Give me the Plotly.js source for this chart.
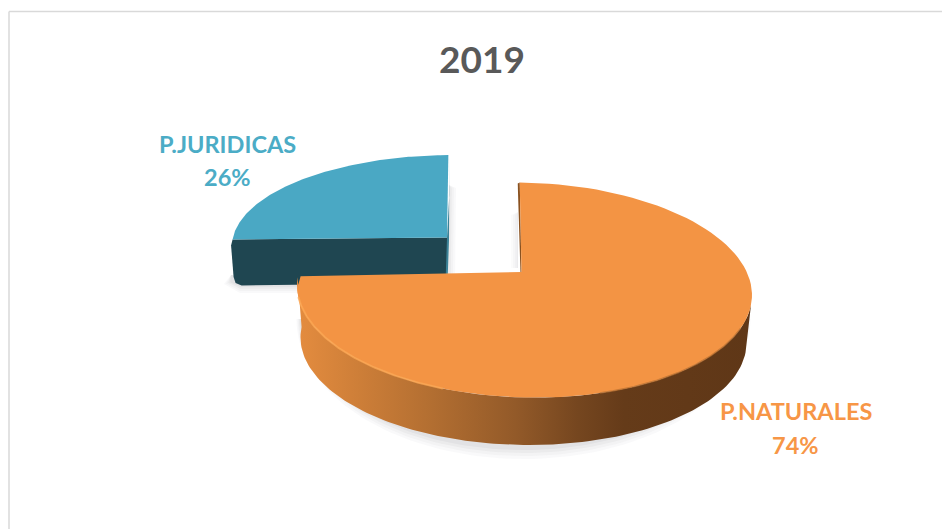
<!DOCTYPE html>
<html>
<head>
<meta charset="utf-8">
<script src="https://cdn.plot.ly/plotly-3.0.1.min.js"></script>
<style>html,body{margin:0;padding:0;background:#fff}#chart{width:942px;height:529px}</style>
</head>
<body>
<div id="chart"></div>
<script>
const chartTitle = "2019";
const categories = ["P.NATURALES", "P.JURIDICAS"];
const shares = [74, 26];

// Fake-perspective view of the pie: ellipses for the top face and the lower rim of each slice
const topOrange = {cx:524.5, cy:290, rx:227.5, ry:107.5, k:0.022};
const rimOrange = {cx:523.5, cy:340, rx:223, ry:105, k:0.012};
const topBlue   = {cx:453, cy:246, rx:221, ry:91, k:0};
const apexOrange = [521.5, 272];
const apexBlue = [447, 237.5];

const warp = t => t - 1.2 + 12.3 * Math.sin(t * Math.PI / 360);
function pt(e, t) {
  const a = warp(t) * Math.PI / 180;
  const x = e.cx + e.rx * Math.sin(a);
  return [x, e.cy - e.ry * Math.cos(a) + e.k * (x - e.cx)];
}
function arc(e, a, b) {
  const out = [], n = 120;
  for (let i = 0; i <= n; i++) out.push(pt(e, a + (b - a) * i / n));
  return out;
}
function lowerRing(e, dy, grow) {
  const out = [];
  for (let i = 0; i <= 90; i++) {
    const a = (90 + i * 2) * Math.PI / 180;
    out.push([e.cx + (e.rx + grow * 0.4) * Math.sin(a), e.cy - 25 + dy - (e.ry + 25 + grow) * Math.cos(a)]);
  }
  return out;
}
const poly = (pts, color, extra) => Object.assign({
  x: pts.map(p => p[0]), y: pts.map(p => p[1]), mode: "lines", fill: "toself",
  fillcolor: color, line: {width: 0, color: color}, hoverinfo: "skip", showlegend: false
}, extra || {});
const stroke = (pts, color, w) => ({
  x: pts.map(p => p[0]), y: pts.map(p => p[1]), mode: "lines",
  line: {width: w, color: color}, hoverinfo: "skip", showlegend: false
});

const end0 = shares[0] / (shares[0] + shares[1]) * 360;
const traces = [];

// soft shadows
[[10,0.035],[7,0.04],[4,0.05],[1,0.06]].forEach(s => {
  traces.push(poly(lowerRing(rimOrange, 4, s[0]), `rgba(90,90,100,${s[1]})`));
  const g = s[0] * 0.7;
  traces.push(poly([[449, 185], [449 + g, 188], [448 + g, 280], [448, 283]], `rgba(90,90,100,${s[1]})`));
  traces.push(poly([[231, 275], [231 - g, 282 + g * 0.3], [240, 286 + g], [300, 286 + g], [300, 280]], `rgba(90,90,100,${s[1]})`));
  traces.push(poly([[518, 268], [518 - g, 268], [518 - g, 215], [518, 212]], `rgba(90,90,100,${s[1] * 0.7})`));
});

// blue slice
const bTop = arc(topBlue, end0, 360);
const bLeft = bTop[0];
traces.push(poly([bLeft, [bLeft[0]-1.5, bLeft[1]+6], [bLeft[0]+1, 277], [bLeft[0]+3, 283], [bLeft[0]+9, 285.5], [445, 283], [447, 270], apexBlue], "#1f4651"));
traces.push(poly([[449.3, 155], [449.3, 195], apexBlue, [445.5, 283], [447.5, 283], [449, 240]], "#3c8398"));
traces.push(poly(bTop.concat([apexBlue]), "#4aa8c4"));

// orange slice
const oTopArc = arc(topOrange, 88, end0);
const oTopFull = arc(topOrange, 0, end0);
const oRim = arc(rimOrange, 88, 268);
const gradient = {
  type: "horizontal",
  colorscale: [[0,"#e48c3f"],[0.12,"#d08039"],[0.3,"#b26e31"],[0.48,"#935a29"],[0.62,"#75461f"],[0.72,"#653b19"],[1,"#5f3717"]]
};
traces.push(poly(oTopArc.concat(oRim.slice().reverse()), "#b26e31", {fillgradient: gradient}));
traces.push(poly([[oTopFull[0][0]-2, oTopFull[0][1]+1], oTopFull[0], apexOrange, [apexOrange[0]-1, 274]], "#8a5220"));
const corner = oTopFull[oTopFull.length - 1];
traces.push(poly(oTopFull.slice(0, -3).concat([[corner[0]+3, corner[1]-1], apexOrange]), "#f39444"));

// bevel along the front edge of the top face
traces.push(stroke(arc(topOrange, 190, 255), "rgba(251,166,82,0.8)", 2));
traces.push(stroke(arc(topOrange, 100, 150), "rgba(180,108,46,0.7)", 1.5));

const labels = [
  {i: 0, x: 795.5, y: 411, c: "#f79646"},
  {i: 1, x: 227.5, y: 143.5, c: "#4bacc6"}
];
const annotations = [];
labels.forEach(l => {
  annotations.push({x:l.x, y:l.y, xref:"x", yref:"y", text:categories[l.i], showarrow:false,
    font:{family:"Lato, Carlito, sans-serif", size:23.5, color:l.c, weight:700}, xanchor:"center", yanchor:"middle"});
  annotations.push({x:l.x, y:l.y+33.5, xref:"x", yref:"y", text:shares[l.i]+"%", showarrow:false,
    font:{family:"Lato, Carlito, sans-serif", size:23.5, color:l.c, weight:700}, xanchor:"center", yanchor:"middle"});
});

const layout = {
  width: 942, height: 529,
  margin: {l:0, r:0, t:0, b:0},
  paper_bgcolor: "#fff", plot_bgcolor: "#fff",
  showlegend: false,
  title: {text: chartTitle, x: 482/942, xanchor: "center", y: 1-60/529, yanchor: "middle",
          font: {family: "Lato, Carlito, sans-serif", size: 37, color: "#595959", weight: 700}},
  xaxis: {range:[0,942], visible:false, fixedrange:true},
  yaxis: {range:[529,0], visible:false, fixedrange:true},
  annotations: annotations,
  shapes: [
    {type:"line", xref:"x", yref:"y", x0:9, x1:9, y0:11.5, y1:529, line:{color:"#d9d9d9", width:1.5}},
    {type:"line", xref:"x", yref:"y", x0:9, x1:942, y0:11.5, y1:11.5, line:{color:"#d9d9d9", width:1.5}}
  ]
};
Plotly.newPlot("chart", traces, layout, {displayModeBar:false, staticPlot:true});
</script>
</body>
</html>
